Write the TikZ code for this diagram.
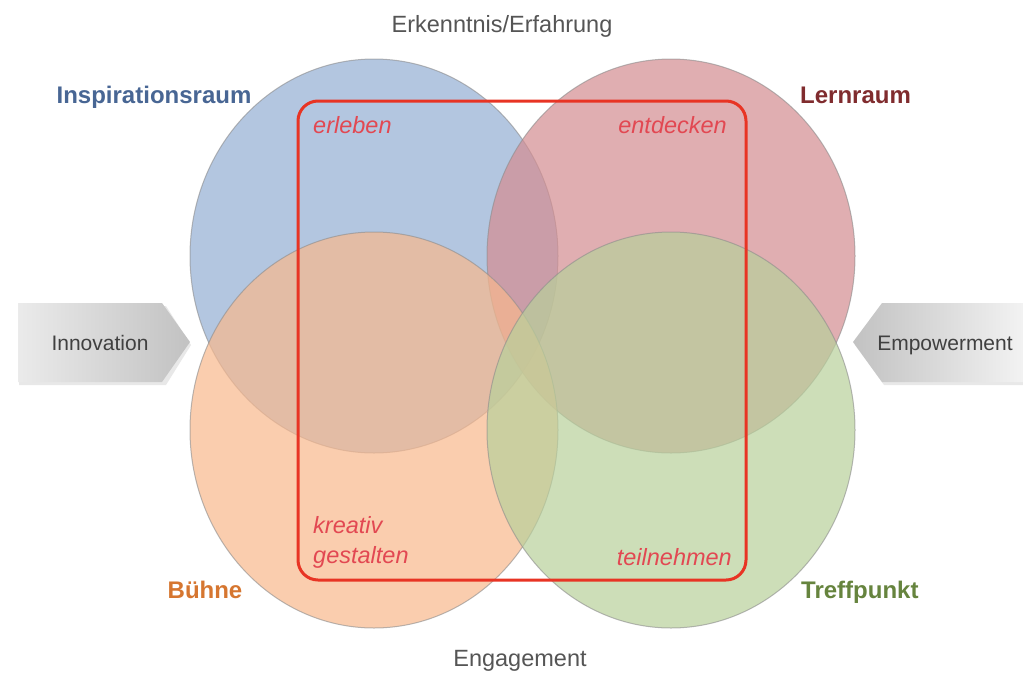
\documentclass[tikz,border=0pt]{standalone}
\usepackage{fontspec}
\setmainfont{Liberation Sans}
\usetikzlibrary{shadings}
\definecolor{cblue}{RGB}{148,174,212}
\definecolor{cred}{RGB}{212,141,145}
\definecolor{corange}{RGB}{248,184,141}
\definecolor{cgreen}{RGB}{184,208,155}
\definecolor{lblue}{RGB}{72,102,148}
\definecolor{lred}{RGB}{128,44,46}
\definecolor{lorange}{RGB}{214,118,48}
\definecolor{lgreen}{RGB}{102,132,62}
\definecolor{rline}{RGB}{232,52,36}
\definecolor{rtext}{RGB}{226,72,82}
\definecolor{gtext}{RGB}{85,85,85}
\tikzset{
  venn/.style={fill=#1, fill opacity=0.7, draw=black!45, draw opacity=0.6, line width=1pt},
  axislabel/.style={font=\fontsize{23.5}{26}\selectfont, text=gtext, anchor=base, inner sep=0pt},
  arrlabel/.style={font=\fontsize{21}{24}\selectfont, text=black!75, anchor=base, inner sep=0pt},
  setlabel/.style={font=\fontsize{24}{27}\selectfont\bfseries, anchor=base, inner sep=0pt},
  verb/.style={font=\fontsize{23.5}{26}\selectfont\itshape, text=rtext, inner sep=0pt},
  frame/.style={draw=rline, line width=3pt, rounded corners=20pt}
}
\begin{document}
\begin{tikzpicture}[x=1pt,y=-1pt]
\useasboundingbox[fill=white] (0,0) rectangle (1023,678);
% side arrows
\fill[black!25, opacity=0.35] (19,306) -- (166,306) -- (191,345) -- (166,385) -- (19,385) -- cycle;
\shade[left color=black!8, right color=black!24] (18,303) -- (162,303) -- (190,342) -- (162,382) -- (18,382) -- cycle;
\fill[black!25, opacity=0.35] (1023,306) -- (884,306) -- (855,345) -- (884,385) -- (1023,385) -- cycle;
\shade[left color=black!24, right color=black!5] (1023,303) -- (882,303) -- (853,342) -- (882,382) -- (1023,382) -- cycle;
% circles
\draw[venn=cblue] (374,256) ellipse [x radius=184, y radius=197];
\draw[venn=cred] (671,256) ellipse [x radius=184, y radius=197];
\draw[venn=corange] (374,430) ellipse [x radius=184, y radius=198];
\draw[venn=cgreen] (671,430) ellipse [x radius=184, y radius=198];
% frame
\node[frame, minimum width=448pt, minimum height=479pt, inner sep=0pt] (frm) at (522,340.5) {};
% axis labels
\node[axislabel] (top) at (502,32) {Erkenntnis/Erfahrung};
\node[axislabel] (bot) at (520,666) {Engagement};
\node[arrlabel] (inno) at (100,350) {Innovation};
\node[arrlabel] (emp) at (945,350) {Empowerment};
% set labels
\node[setlabel, text=lblue] (insp) at (154,103) {Inspirationsraum};
\node[setlabel, text=lred, anchor=base west] (lern) at (800,103) {Lernraum};
\node[setlabel, text=lorange] (buehne) at (205,598) {Bühne};
\node[setlabel, text=lgreen, anchor=base west] (treff) at (801,598) {Treffpunkt};
% verbs
\node[verb, anchor=base west] (erl) at (313,133) {erleben};
\node[verb, anchor=base east] (ent) at (727,133) {entdecken};
\node[verb, anchor=base west] (kre) at (313,533) {kreativ};
\node[verb, anchor=base west] (ges) at (313,563) {gestalten};
\node[verb, anchor=base east] (teil) at (732,565) {teilnehmen};
\end{tikzpicture}
\end{document}
